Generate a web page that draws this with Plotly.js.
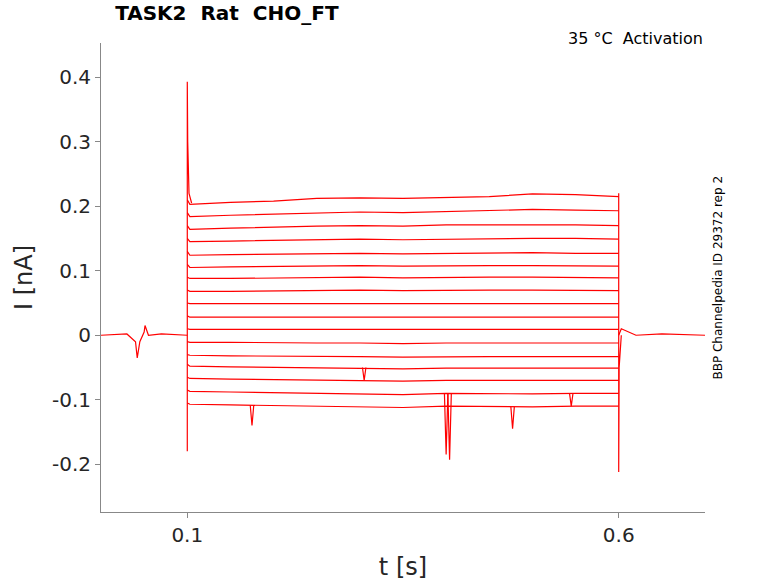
<!DOCTYPE html>
<html>
<head>
<meta charset="utf-8">
<script src="https://cdn.plot.ly/plotly-3.0.1.min.js"></script>
<style>body{margin:0;background:#fff}#plot{width:778px;height:583px}</style>
</head>
<body>
<div id="plot"></div>
<script>
// sample times for the step traces (s)
var stepT = [0.1, 0.103, 0.15, 0.2, 0.25, 0.3, 0.35, 0.4, 0.45, 0.5, 0.55, 0.6];
// current during step (nA), one row per voltage step
var stepI = [
  [0.21, 0.203, 0.206, 0.208, 0.212, 0.213, 0.212, 0.214, 0.215, 0.219, 0.218, 0.215],
  [0.19, 0.184, 0.186, 0.188, 0.190, 0.191, 0.190, 0.192, 0.193, 0.195, 0.194, 0.193],
  [0.17, 0.164, 0.166, 0.168, 0.169, 0.170, 0.169, 0.171, 0.171, 0.172, 0.171, 0.170],
  [0.15, 0.145, 0.146, 0.147, 0.148, 0.149, 0.148, 0.149, 0.150, 0.150, 0.150, 0.149],
  [0.13, 0.124, 0.125, 0.126, 0.127, 0.127, 0.126, 0.127, 0.128, 0.128, 0.127, 0.127],
  [0.11, 0.105, 0.106, 0.107, 0.107, 0.108, 0.107, 0.108, 0.108, 0.108, 0.108, 0.107],
  [0.09, 0.088, 0.088, 0.089, 0.089, 0.090, 0.089, 0.090, 0.090, 0.090, 0.090, 0.089],
  [0.07, 0.068, 0.068, 0.069, 0.069, 0.070, 0.069, 0.070, 0.070, 0.070, 0.070, 0.069],
  [0.05, 0.049, 0.049, 0.049, 0.050, 0.050, 0.049, 0.050, 0.050, 0.050, 0.050, 0.049],
  [0.03, 0.028, 0.028, 0.028, 0.029, 0.029, 0.028, 0.029, 0.029, 0.029, 0.029, 0.028],
  [0.01, 0.009, 0.009, 0.009, 0.009, 0.010, 0.009, 0.010, 0.010, 0.010, 0.010, 0.009],
  [-0.01, -0.011, -0.011, -0.012, -0.012, -0.012, -0.013, -0.012, -0.012, -0.012, -0.012, -0.012],
  [-0.03, -0.031, -0.032, -0.032, -0.033, -0.033, -0.034, -0.033, -0.033, -0.033, -0.033, -0.033],
  [-0.045, -0.048, -0.049, -0.050, -0.050, -0.051, -0.052, -0.051, -0.051, -0.051, -0.051, -0.051],
  [-0.065, -0.067, -0.068, -0.069, -0.070, -0.070, -0.071, -0.070, -0.070, -0.071, -0.070, -0.070],
  [-0.085, -0.087, -0.088, -0.089, -0.090, -0.090, -0.092, -0.090, -0.091, -0.091, -0.090, -0.090],
  [-0.105, -0.107, -0.108, -0.109, -0.110, -0.111, -0.112, -0.110, -0.111, -0.111, -0.110, -0.110]
];
// holding baseline before/after the step
var baseT = [0, 0.03, 0.04, 0.042, 0.045, 0.05, 0.051, 0.055, 0.07, 0.1, null, 0.6, 0.603, 0.62, 0.65, 0.7];
var baseI = [0, 0.002, -0.01, -0.035, -0.01, 0.005, 0.015, 0.0, 0.002, 0, null, 0, 0.01, 0.0, 0.002, 0];
// capacitive transients
var onT = [0.1, 0.1, 0.1, 0.1005, 0.102, 0.105];
var onI = [-0.18, 0.0, 0.393, 0.30, 0.22, 0.205];
var offT = [0.6, 0.6, 0.6, 0.6005, 0.603];
var offI = [0.22, 0.0, -0.212, -0.05, 0.0];
// sharp downward events on the lower traces
var dipT = [0.175, 0.305, 0.4, 0.404, 0.477, 0.545];
var dipBase = [-0.109, -0.05, -0.09, -0.09, -0.111, -0.09];
var dipLow = [-0.14, -0.07, -0.185, -0.193, -0.145, -0.11];

var traces = [];
var line = {color: 'red', width: 1.2};
stepI.forEach(function (row) {
  traces.push({x: stepT, y: row, mode: 'lines', line: line, hoverinfo: 'skip'});
});
traces.push({x: baseT, y: baseI, mode: 'lines', line: line});
traces.push({x: onT, y: onI, mode: 'lines', line: line});
traces.push({x: offT, y: offI, mode: 'lines', line: line});
var dx = [], dy = [];
dipT.forEach(function (t, i) {
  dx.push(t - 0.002, t, t + 0.002, null);
  dy.push(dipBase[i], dipLow[i], dipBase[i], null);
});
traces.push({x: dx, y: dy, mode: 'lines', line: line});

var layout = {
  width: 778, height: 583, showlegend: false,
  paper_bgcolor: '#fff', plot_bgcolor: '#fff',
  margin: {l: 101, r: 73, t: 43, b: 71},
  font: {family: 'DejaVu Sans, sans-serif', color: '#262626'},
  title: {text: '<b>TASK2  Rat  CHO_FT</b>', x: 0.148, xanchor: 'left', y: 0.99, yanchor: 'top', font: {size: 20, color: '#000'}},
  xaxis: {range: [0, 0.7], tickvals: [0.1, 0.6], ticktext: ['0.1', '0.6'], showgrid: false, zeroline: false,
    showline: true, linecolor: '#888', ticks: 'outside', ticklen: 5, tickcolor: '#888',
    tickfont: {size: 20}, title: {text: 't [s]', font: {size: 24}, standoff: 12}},
  yaxis: {range: [-0.274, 0.453], tickvals: [-0.2, -0.1, 0, 0.1, 0.2, 0.3, 0.4],
    ticktext: ['-0.2', '-0.1', '0', '0.1', '0.2', '0.3', '0.4'], showgrid: false, zeroline: false,
    showline: true, linecolor: '#888', ticks: 'outside', ticklen: 5, tickcolor: '#888',
    tickfont: {size: 20}, title: {text: 'I [nA]', font: {size: 24}, standoff: 12}},
  annotations: [
    {text: '35 °C  Activation', xref: 'paper', yref: 'paper', x: 1, y: 0.985, xanchor: 'right', yanchor: 'bottom',
      showarrow: false, font: {size: 16, color: '#000'}},
    {text: 'BBP Channelpedia ID 29372 rep 2', xref: 'paper', yref: 'paper', x: 1.02, y: 0.5,
      xanchor: 'center', yanchor: 'middle', textangle: -90, showarrow: false, font: {size: 12, color: '#000'}}
  ]
};
Plotly.newPlot('plot', traces, layout, {displayModeBar: false});
</script>
</body>
</html>
